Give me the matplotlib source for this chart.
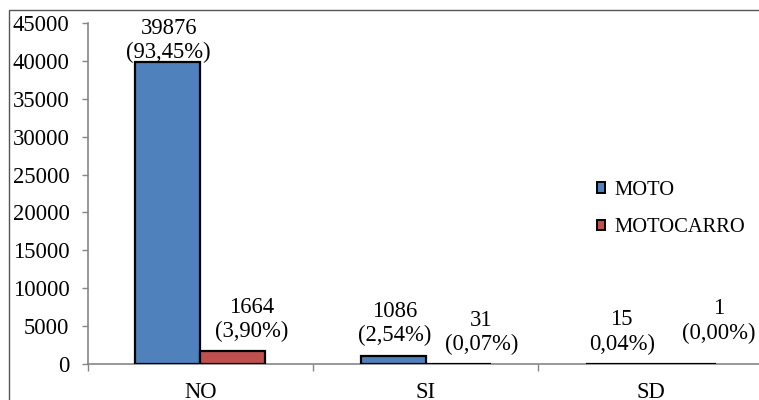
import matplotlib
matplotlib.use("Agg")
import matplotlib.pyplot as plt
from matplotlib.patches import Patch, Rectangle
import numpy as np

categories = ["NO", "SI", "SD"]
series_names = ["MOTO", "MOTOCARRO"]
moto = [39876, 1086, 15]
motocarro = [1664, 31, 1]
moto_pct = ["(93,45%)", "(2,54%)", "0,04%)"]
motocarro_pct = ["(3,90%)", "(0,07%)", "(0,00%)"]
y_ticks = [0, 5000, 10000, 15000, 20000, 25000, 30000, 35000, 40000, 45000]

plt.rcParams["font.family"] = ["Liberation Serif", "DejaVu Serif"]

W, H = 759, 400
fig = plt.figure(figsize=(W / 100, H / 100), dpi=100)

# plot area in pixel coordinates
x0, x1, ytop, ybot = 87.5, 764.0, 23.0, 364.0
ax = fig.add_axes([x0 / W, 1 - ybot / H, (x1 - x0) / W, (ybot - ytop) / H])

blue = "#4F81BD"
red = "#C0504D"
x = np.arange(len(categories))
bw = 0.288
b1 = ax.bar(x - bw / 2, moto, bw, color=blue, edgecolor="black", linewidth=1.6, zorder=3)
b2 = ax.bar(x + bw / 2, motocarro, bw, color=red, edgecolor="black", linewidth=1.6, zorder=3)

ax.set_xlim(-0.5, 2.5)
ax.set_ylim(0, 45000)
ax.set_yticks(y_ticks)
ax.set_yticklabels([str(v) for v in y_ticks], fontsize=16.3)
ax.set_xticks(x)
ax.set_xticklabels(categories, fontsize=16.3)
ax.set_xticks([-0.5, 0.5, 1.5, 2.5], minor=True)
ax.tick_params(axis="x", which="major", length=0, pad=13)
ax.tick_params(axis="x", which="minor", length=5, color="#868686", width=1)
ax.tick_params(axis="y", length=4, color="#868686", width=1, pad=9)

for s in ["top", "right"]:
    ax.spines[s].set_visible(False)
for s in ["left", "bottom"]:
    ax.spines[s].set_color("#868686")
    ax.spines[s].set_linewidth(1.2)

# data labels: value above percentage, offsets in pixels from bar top
moto_off = [(1, 21), (1, 32), (3, 32)]
motocarro_off = [(19, 32), (23, 31), (35, 43)]
for bars, vals, pcts, offs in [(b1, moto, moto_pct, moto_off),
                               (b2, motocarro, motocarro_pct, motocarro_off)]:
    for rect, v, p, (dx, dy) in zip(bars, vals, pcts, offs):
        ax.annotate(f"{v}\n{p}", xy=(rect.get_x() + rect.get_width() / 2, v),
                    xytext=(dx, dy), textcoords="offset pixels",
                    ha="center", va="center", fontsize=16.3, linespacing=1.2,
                    zorder=4)

handles = [Patch(facecolor=blue, edgecolor="black", linewidth=1.4),
           Patch(facecolor=red, edgecolor="black", linewidth=1.4)]
fig.legend(handles, series_names, loc="center left",
           bbox_to_anchor=(597 / W, 1 - 209 / H), frameon=False, fontsize=14.8,
           handlelength=0.4, handleheight=0.4, handletextpad=0.45,
           labelspacing=0.9, borderpad=0, borderaxespad=0)

# chart border
fig.patches.append(Rectangle((9 / W, -0.1), 1.2, 1.1 - 10 / H, transform=fig.transFigure,
                             fill=False, edgecolor="#555555", linewidth=1.0))

fig.savefig("out.png", dpi=100)
